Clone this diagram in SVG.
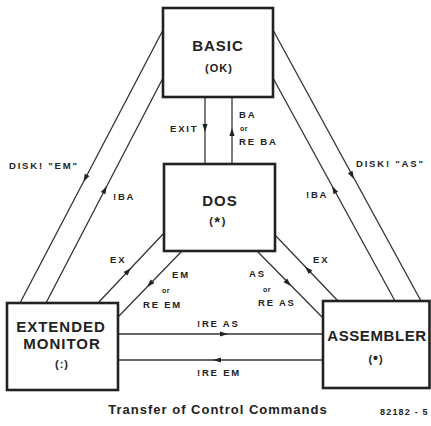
<svg xmlns="http://www.w3.org/2000/svg" width="431" height="426" viewBox="0 0 431 426">
<style>
.box{fill:#fff;stroke:#222;stroke-width:2.6}
.ln{stroke:#333;stroke-width:1.3;fill:none}
.ah{fill:#222}
text{font-family:"Liberation Sans",Arial,sans-serif;font-weight:bold;fill:#222}
.t{font-size:15px;letter-spacing:1px;text-anchor:middle}
.s{font-size:11px;letter-spacing:1px;text-anchor:middle}
.l{font-size:9.5px;letter-spacing:1.8px}
.or{font-size:7px;letter-spacing:0.5px}
.title{font-size:13px;letter-spacing:1px;text-anchor:middle}
.ref{font-size:9px;letter-spacing:1.2px}
</style>
<defs><path id="ah" d="M0,0 L-8,-2.6 L-8,2.6 Z"/></defs>
<rect width="431" height="426" fill="#fff"/>
<g id="connectors">
<g class="ln">
<line x1="163" y1="30" x2="20" y2="303"/>
<line x1="163" y1="78" x2="46" y2="303"/>
<line x1="273" y1="30" x2="421" y2="301"/>
<line x1="273" y1="78" x2="395" y2="301"/>
<line x1="205" y1="97" x2="205" y2="164"/>
<line x1="232" y1="97" x2="232" y2="164"/>
<line x1="164" y1="233" x2="98" y2="303"/>
<line x1="182" y1="251" x2="118" y2="317"/>
<line x1="275" y1="235" x2="338" y2="301"/>
<line x1="257" y1="251" x2="323" y2="318"/>
<line x1="118" y1="334" x2="323" y2="334"/>
<line x1="118" y1="360" x2="323" y2="360"/>
</g>
<g class="ah">
<use href="#ah" transform="translate(83.4 182) rotate(117.6)"/>
<use href="#ah" transform="translate(106.8 186) rotate(-62.5)"/>
<use href="#ah" transform="translate(354 179) rotate(61.4)"/>
<use href="#ah" transform="translate(332 186) rotate(-118.7)"/>
<use href="#ah" transform="translate(205 132) rotate(90)"/>
<use href="#ah" transform="translate(232 128) rotate(-90)"/>
<use href="#ah" transform="translate(131 268) rotate(-46.7)"/>
<use href="#ah" transform="translate(147 287) rotate(134.1)"/>
<use href="#ah" transform="translate(305 266.4) rotate(-133.7)"/>
<use href="#ah" transform="translate(291 286) rotate(45.4)"/>
<use href="#ah" transform="translate(228 334)"/>
<use href="#ah" transform="translate(213 360) rotate(180)"/>
</g>
<g id="labels">
<text class="l" x="170" y="132">EXIT</text>
<text class="l" x="239" y="118">BA</text>
<text class="or" x="240" y="131">or</text>
<text class="l" x="239" y="145">RE BA</text>
<text class="l" x="9" y="169">DISK! "EM"</text>
<text class="l" x="113" y="200">!BA</text>
<text class="l" x="356" y="167">DISK! "AS"</text>
<text class="l" x="306" y="198">!BA</text>
<text class="l" x="110" y="263">EX</text>
<text class="l" x="172" y="278">EM</text>
<text class="or" x="162" y="293">or</text>
<text class="l" x="143" y="308">RE EM</text>
<text class="l" x="313" y="263">EX</text>
<text class="l" x="249" y="277">AS</text>
<text class="or" x="263" y="292">or</text>
<text class="l" x="258" y="306">RE AS</text>
<text class="l" x="197" y="327">!RE AS</text>
<text class="l" x="197" y="376">!RE EM</text>
</g>
</g>
<g id="basic">
<rect class="box" x="163" y="8" width="110" height="89"/>
<text class="t" x="218" y="51">BASIC</text>
<text class="s" x="219" y="72">(OK)</text>
</g>
<g id="dos">
<rect class="box" x="164" y="164" width="111" height="87"/>
<text class="t" x="220" y="206">DOS</text>
<text class="s" x="218" y="225" style="letter-spacing:1.5px">(<tspan style="font-size:15px" dy="2">*</tspan><tspan dy="-2">)</tspan></text>
</g>
<g id="extended-monitor">
<rect class="box" x="7" y="303" width="111" height="87"/>
<text class="t" x="61" y="332">EXTENDED</text>
<text class="t" x="62" y="349">MONITOR</text>
<text class="s" x="62" y="368">(:)</text>
</g>
<g id="assembler">
<rect class="box" x="323" y="301" width="106.5" height="87"/>
<text class="t" x="377" y="341" style="letter-spacing:0.6px">ASSEMBLER</text>
<text class="s" x="376" y="363">(<tspan style="font-size:14px">•</tspan>)</text>
</g>
<text class="title" x="218" y="414">Transfer of Control Commands</text>
<text class="ref" x="380" y="415">82182 - 5</text>
</svg>
